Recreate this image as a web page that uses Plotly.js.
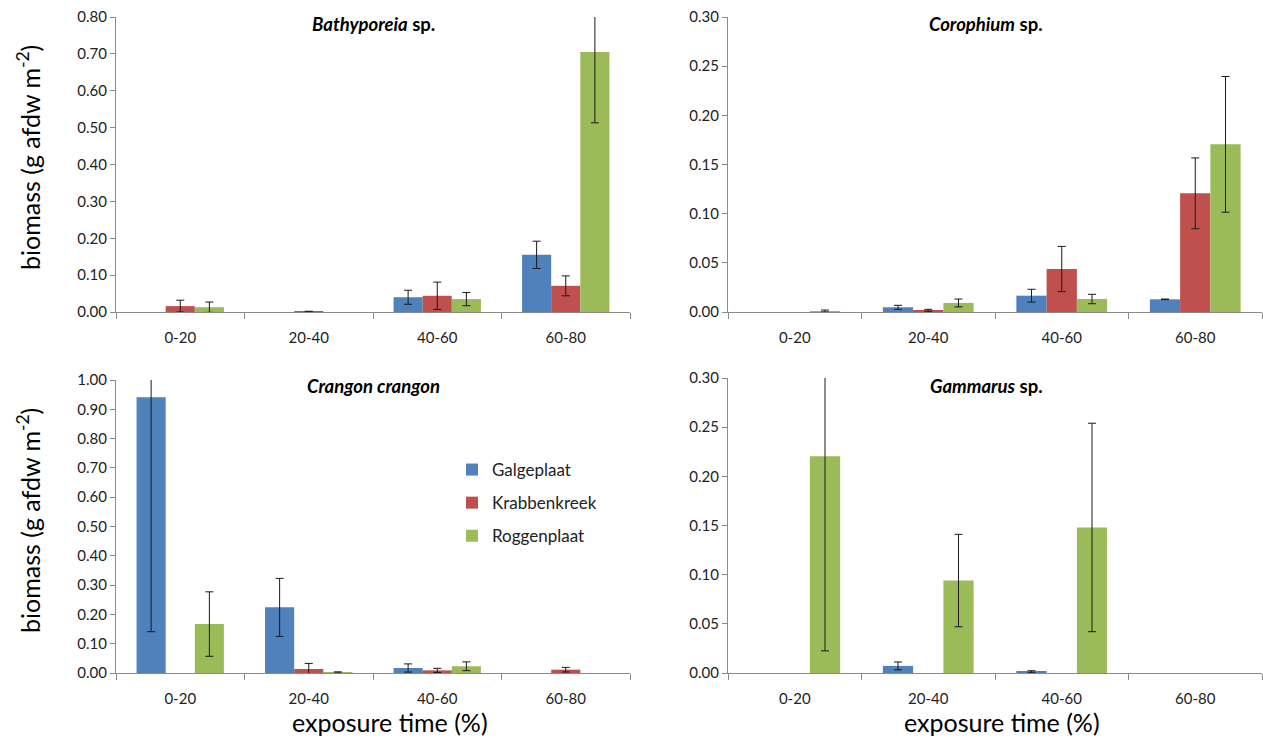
<!DOCTYPE html>
<html>
<head>
<meta charset="utf-8">
<script src="https://cdn.plot.ly/plotly-3.0.1.min.js"></script>
<style>html,body{margin:0;padding:0;background:#fff;}#chart{width:1263px;height:743px;}</style>
</head>
<body>
<div id="chart"></div>
<script>
var categories = ['0-20', '20-40', '40-60', '60-80'];
var sites = ['Galgeplaat', 'Krabbenkreek', 'Roggenplaat'];
var colors = ['#4F81BD', '#C0504D', '#9BBB59'];

// Bathyporeia sp.
var bathyMean = [[null, null, 0.040, 0.155], [0.016, 0.001, 0.044, 0.071], [0.013, null, 0.035, 0.705]];
var bathyErr  = [[null, null, 0.019, 0.037], [0.016, 0.001, 0.037, 0.027], [0.014, null, 0.018, 0.192]];
// Corophium sp.
var coroMean = [[null, 0.0048, 0.0166, 0.0129], [null, 0.0017, 0.0437, 0.1207], [0.001, 0.0092, 0.0132, 0.1705]];
var coroErr  = [[null, 0.002, 0.0065, 0.0003], [null, 0.001, 0.023, 0.036], [0.001, 0.004, 0.0048, 0.069]];
// Crangon crangon
var crangMean = [[0.941, 0.224, 0.017, null], [null, 0.0137, 0.009, 0.0113], [0.167, 0.002, 0.023, null]];
var crangErr  = [[0.80, 0.099, 0.014, null], [null, 0.019, 0.007, 0.008], [0.11, 0.002, 0.015, null]];
// Gammarus sp.
var gammMean = [[null, 0.0072, 0.0013, null], [null, null, null, null], [0.2205, 0.094, 0.148, null]];
var gammErr  = [[null, 0.004, 0.001, null], [null, null, null, null], [0.198, 0.047, 0.106, null]];

var yTicksA = [0, 0.1, 0.2, 0.3, 0.4, 0.5, 0.6, 0.7, 0.8];
var yTicksB = [0, 0.05, 0.1, 0.15, 0.2, 0.25, 0.3];
var yTicksC = [0, 0.1, 0.2, 0.3, 0.4, 0.5, 0.6, 0.7, 0.8, 0.9, 1.0];

var panels = [
  {mean: bathyMean, err: bathyErr, xa: 'x', ya: 'y', legend: false},
  {mean: coroMean, err: coroErr, xa: 'x2', ya: 'y2', legend: false},
  {mean: crangMean, err: crangErr, xa: 'x3', ya: 'y3', legend: true},
  {mean: gammMean, err: gammErr, xa: 'x4', ya: 'y4', legend: false}
];

var data = [];
panels.forEach(function (p) {
  for (var s = 0; s < 3; s++) {
    data.push({
      type: 'bar',
      x: categories,
      y: p.mean[s],
      name: sites[s],
      legendgroup: sites[s],
      showlegend: p.legend,
      xaxis: p.xa,
      yaxis: p.ya,
      marker: {color: colors[s]},
      error_y: {type: 'data', array: p.err[s], visible: true, color: '#1a1a1a', thickness: 1, width: 4},
      hoverinfo: 'x+y+name'
    });
  }
});

var W = 1263, H = 743;
function dx(a, b) { return [a / W, b / W]; }
function dy(top, bot) { return [(H - bot) / H, (H - top) / H]; }

var FAM = 'Lato, "Open Sans", sans-serif';
var tickFont = {family: FAM, size: 15, color: '#222'};
function xax(dom, anchor) {
  return {domain: dom, anchor: anchor, showline: true, linecolor: '#8a8a8a', linewidth: 1,
    ticks: 'outside', tickson: 'boundaries', ticklen: 6, tickcolor: '#8a8a8a', ticklabelstandoff: 12,
    showgrid: false, zeroline: false, tickfont: tickFont, fixedrange: true};
}
function yax(dom, anchor, rng, tv) {
  return {domain: dom, anchor: anchor, range: rng, tickvals: tv, tickformat: '.2f',
    showline: true, linecolor: '#8a8a8a', linewidth: 1, ticks: 'outside', ticklen: 5, tickcolor: '#8a8a8a',
    showgrid: false, zeroline: false, tickfont: tickFont, fixedrange: true};
}

var titleFont = {family: FAM, size: 18.5, color: '#000'};
var axisTitleFont = {family: FAM, size: 25, color: '#000'};

var layout = {
  width: W, height: H,
  margin: {l: 0, r: 0, t: 0, b: 0},
  paper_bgcolor: '#fff', plot_bgcolor: '#fff',
  barmode: 'group', bargap: 0.32, bargroupgap: 0,
  showlegend: true,
  legend: {x: 452 / W, y: (H - 452) / H, xanchor: 'left', yanchor: 'top',
    font: {family: FAM, size: 17, color: '#222'},
    tracegroupgap: 8, bgcolor: 'rgba(0,0,0,0)', itemwidth: 30},
  xaxis: xax(dx(116, 630), 'y'),
  yaxis: yax(dy(17, 312), 'x', [0, 0.8], yTicksA),
  xaxis2: xax(dx(728, 1262), 'y2'),
  yaxis2: yax(dy(17, 312), 'x2', [0, 0.3], yTicksB),
  xaxis3: xax(dx(116, 630), 'y3'),
  yaxis3: yax(dy(380, 673), 'x3', [0, 1.0], yTicksC),
  xaxis4: xax(dx(728, 1262), 'y4'),
  yaxis4: yax(dy(378, 673), 'x4', [0, 0.3], yTicksB),
  annotations: [
    {text: '<b><i>Bathyporeia</i> sp.</b>', x: 373 / W, y: (H - 24) / H, xref: 'paper', yref: 'paper', showarrow: false, font: titleFont, xanchor: 'center', yanchor: 'middle'},
    {text: '<b><i>Corophium</i> sp.</b>', x: 986 / W, y: (H - 24) / H, xref: 'paper', yref: 'paper', showarrow: false, font: titleFont, xanchor: 'center', yanchor: 'middle'},
    {text: '<b><i>Crangon crangon</i></b>', x: 373 / W, y: (H - 386) / H, xref: 'paper', yref: 'paper', showarrow: false, font: titleFont, xanchor: 'center', yanchor: 'middle'},
    {text: '<b><i>Gammarus</i> sp.</b>', x: 986 / W, y: (H - 386) / H, xref: 'paper', yref: 'paper', showarrow: false, font: titleFont, xanchor: 'center', yanchor: 'middle'},
    {text: 'biomass (g afdw m<sup>-2</sup>)', textangle: -90, x: 28 / W, y: (H - 158) / H, xref: 'paper', yref: 'paper', showarrow: false, font: axisTitleFont, xanchor: 'center', yanchor: 'middle'},
    {text: 'biomass (g afdw m<sup>-2</sup>)', textangle: -90, x: 28 / W, y: (H - 521) / H, xref: 'paper', yref: 'paper', showarrow: false, font: axisTitleFont, xanchor: 'center', yanchor: 'middle'},
    {text: 'exposure time (%)', x: 390 / W, y: (H - 722) / H, xref: 'paper', yref: 'paper', showarrow: false, font: axisTitleFont, xanchor: 'center', yanchor: 'middle'},
    {text: 'exposure time (%)', x: 1002 / W, y: (H - 722) / H, xref: 'paper', yref: 'paper', showarrow: false, font: axisTitleFont, xanchor: 'center', yanchor: 'middle'}
  ]
};

Plotly.newPlot('chart', data, layout, {displayModeBar: false});
</script>
</body>
</html>
